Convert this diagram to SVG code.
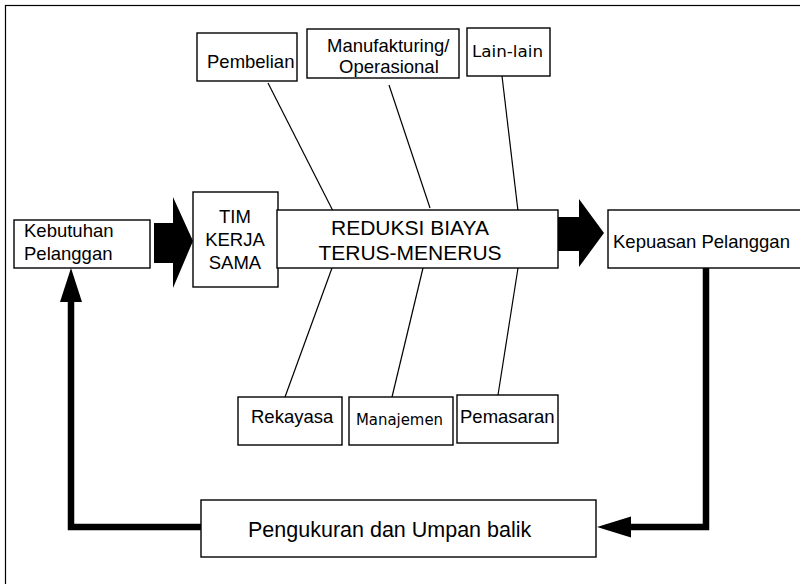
<svg xmlns="http://www.w3.org/2000/svg" width="800" height="584" viewBox="0 0 800 584">
  <style>
    .box { fill: #fff; stroke: #000; stroke-width: 1.4; }
    .t { font-family: "Liberation Sans", Arial, sans-serif; font-size: 18.5px; fill: #000; }
    .big { font-size: 21px; }
    .bigger { font-size: 21.5px; }
    .c { font-family: "Comic Sans MS", "DejaVu Sans", sans-serif; font-size: 16px; fill: #000; }
    .thin { stroke: #000; stroke-width: 1.2; fill: none; }
    .thick { stroke: #000; stroke-width: 6.5; fill: none; stroke-linejoin: miter; }
    .blk { fill: #000; }
  </style>

  <!-- frame -->
  <rect x="5.5" y="5.5" width="820" height="620" fill="#fff" stroke="#000" stroke-width="1.2"/>

  <!-- connectors -->
  <g id="connectors">
    <!-- fishbone branch lines -->
    <line class="thin" x1="268" y1="83" x2="333" y2="211"/>
    <line class="thin" x1="389" y1="85" x2="430" y2="208"/>
    <line class="thin" x1="502" y1="76" x2="518" y2="211"/>
    <line class="thin" x1="332" y1="268" x2="285" y2="397"/>
    <line class="thin" x1="423" y1="268" x2="392" y2="397"/>
    <line class="thin" x1="518" y1="268" x2="498" y2="395"/>

    <!-- block arrows -->
    <polygon class="blk" points="154,223 173,223 173,197 193,241 173,288 173,263 154,263"/>
    <polygon class="blk" points="556,217 579,217 579,199 604,233 579,267 579,251 556,251"/>

    <!-- feedback loop -->
    <polyline class="thick" points="706,268 706,527 630,527"/>
    <polygon class="blk" points="597,527 631,516.5 631,537.5"/>
    <polyline class="thick" points="201,527 71,527 71,300"/>
    <polygon class="blk" points="71,268 60,302 82,302"/>
  </g>

  <g id="kebutuhan">
    <rect class="box" x="14" y="220" width="136" height="48"/>
    <text class="t" x="24" y="237">Kebutuhan</text>
    <text class="t" x="24" y="260">Pelanggan</text>
  </g>

  <g id="tim">
    <rect class="box" x="193" y="192" width="85" height="95"/>
    <text class="t" x="235" y="223" text-anchor="middle">TIM</text>
    <text class="t" x="235" y="246" text-anchor="middle">KERJA</text>
    <text class="t" x="235" y="269" text-anchor="middle">SAMA</text>
  </g>

  <g id="reduksi">
    <rect class="box" x="277" y="210" width="281" height="58"/>
    <text class="t big" x="410" y="235" text-anchor="middle">REDUKSI BIAYA</text>
    <text class="t big" x="410" y="260" text-anchor="middle">TERUS-MENERUS</text>
  </g>

  <g id="kepuasan">
    <rect class="box" x="608" y="210" width="220" height="58"/>
    <text class="t" x="613" y="248">Kepuasan Pelanggan</text>
  </g>

  <g id="pembelian">
    <rect class="box" x="197" y="33" width="100" height="48"/>
    <text class="t" x="207" y="68">Pembelian</text>
  </g>

  <g id="manufakturing">
    <rect class="box" x="307" y="29" width="152" height="49"/>
    <text class="t" x="327" y="52">Manufakturing/</text>
    <text class="t" x="339" y="73">Operasional</text>
  </g>

  <g id="lainlain">
    <rect class="box" x="467" y="28" width="83" height="48"/>
    <text class="c" x="472" y="57" textLength="71" lengthAdjust="spacingAndGlyphs">Lain-lain</text>
  </g>

  <g id="rekayasa">
    <rect class="box" x="238" y="397" width="104" height="48"/>
    <text class="t" x="251" y="423">Rekayasa</text>
  </g>

  <g id="manajemen">
    <rect class="box" x="349" y="397" width="104" height="48"/>
    <text class="c" x="356" y="425" textLength="87" lengthAdjust="spacingAndGlyphs">Manajemen</text>
  </g>

  <g id="pemasaran">
    <rect class="box" x="457" y="395" width="101" height="48"/>
    <text class="t" x="460" y="423">Pemasaran</text>
  </g>

  <g id="pengukuran">
    <rect class="box" x="201" y="500" width="395" height="57"/>
    <text class="t bigger" x="248" y="537">Pengukuran dan Umpan balik</text>
  </g>
</svg>
